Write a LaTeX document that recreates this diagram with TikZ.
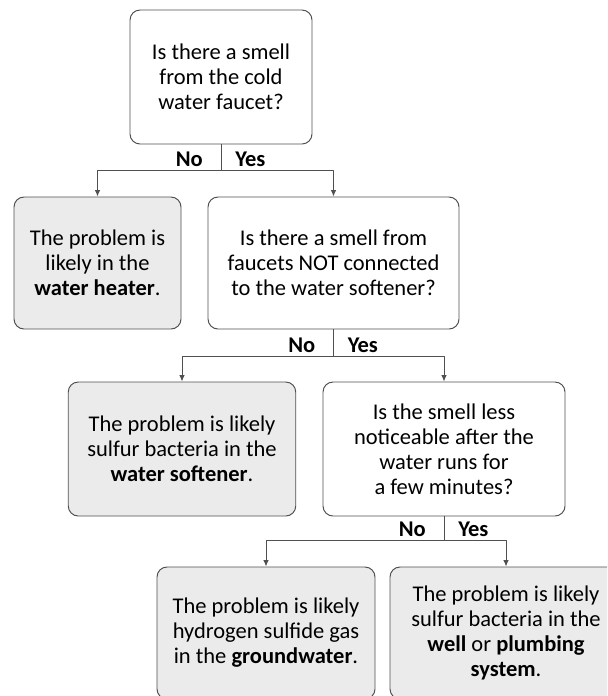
\documentclass[tikz,border=0pt]{standalone}
\usepackage{fontspec}
\setmainfont{Carlito}
\usepackage{tikz}
\usetikzlibrary{arrows.meta,positioning}
\definecolor{boxgray}{HTML}{EBEBEB}
\definecolor{linegray}{HTML}{505050}

\begin{document}
\begin{tikzpicture}[>={Latex[length=1.6mm,width=1.4mm]},line join=bevel,
  box/.style={draw=linegray,line width=0.7pt,rounded corners=0.25cm,align=center,inner sep=0pt,
    font=\fontsize{16pt}{17.8pt}\selectfont},
  qbox/.style={box,fill=white},
  abox/.style={box,fill=boxgray},
  lbl/.style={inner sep=0pt,font=\fontsize{16pt}{17.8pt}\selectfont\bfseries},
  conn/.style={draw=linegray,line width=0.7pt}]
\clip (0,0) rectangle (15.175,-17.4);
% questions and answers
\node [qbox,minimum width=4.55cm,minimum height=3.35cm] at (5.525,-1.925) (s0) {Is there a smell\\from the cold\\water faucet?};
\node [abox,minimum width=4.175cm,minimum height=3.3cm] at (2.4375,-6.575) (s1) {The problem is\\likely in the\\\textbf{water heater}.};
\node [qbox,minimum width=6.275cm,minimum height=3.3cm] at (8.3375,-6.575) (s2) {Is there a smell from\\faucets NOT connected\\to the water softener?};
\node [abox,minimum width=5.6875cm,minimum height=3.35cm] at (4.55,-11.225) (s3) {The problem is likely\\sulfur bacteria in the\\\textbf{water softener}.};
\node [qbox,minimum width=6.05cm,minimum height=3.35cm] at (11.1,-11.225) (s4) {Is the smell less\\noticeable after the\\water runs for\\a few minutes?};
\node [abox,minimum width=5.45cm,minimum height=3.3cm] at (6.65,-15.825) (s5) {The problem is likely\\hydrogen sulfide gas\\in the \textbf{groundwater}.};
\node [abox,minimum width=5.8cm,minimum height=3.3cm] at (12.65,-15.825) (s6) {The problem is likely\\sulfur bacteria in the\\\textbf{well} or \textbf{plumbing}\\\textbf{system}.};

% branch points
\coordinate (j0) at (s0.south |- 0,-4.25);
\coordinate (j1) at (s2.south |- 0,-8.9);
\coordinate (j2) at (s4.south |- 0,-13.5);

\node [lbl,above left=0.08cm and 0.45cm of j0] (no0) {No};
\node [lbl,above right=0.08cm and 0.35cm of j0] (yes0) {Yes};
\node [lbl,above left=0.08cm and 0.45cm of j1] (no1) {No};
\node [lbl,above right=0.08cm and 0.35cm of j1] (yes1) {Yes};
\node [lbl,above left=0.08cm and 0.45cm of j2] (no2) {No};
\node [lbl,above right=0.08cm and 0.35cm of j2] (yes2) {Yes};

\draw [conn] (s0.south) -- (j0);
\draw [conn,->] (j0) -| (s1.north);
\draw [conn,->] (j0) -| (s2.north);
\draw [conn] (s2.south) -- (j1);
\draw [conn,->] (j1) -| (s3.north);
\draw [conn,->] (j1) -| (s4.north);
\draw [conn] (s4.south) -- (j2);
\draw [conn,->] (j2) -| (s5.north);
\draw [conn,->] (j2) -| (s6.north);
\end{tikzpicture}
\end{document}
